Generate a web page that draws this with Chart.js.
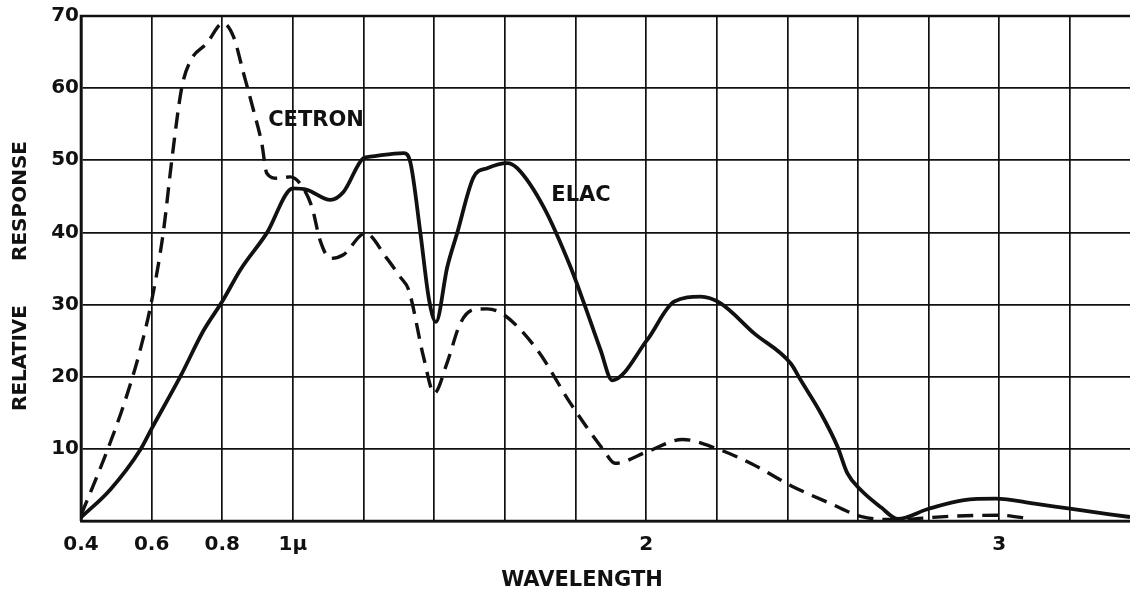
<!DOCTYPE html>
<html>
<head>
<meta charset="utf-8">
<script src="https://cdn.jsdelivr.net/npm/chart.js@4/dist/chart.umd.min.js"></script>
<style>
  html, body { margin: 0; padding: 0; background: #ffffff; }
  #wrap { width: 1130px; height: 595px; position: relative; }
</style>
</head>
<body>
<div id="wrap"><canvas id="c" width="1130" height="595"></canvas></div>
<script>
// ---- data ----
const cetronX = [0.40,0.473,0.525,0.567,0.600,0.633,0.657,0.685,0.709,0.756,0.802,0.832,0.860,0.888,0.912,0.926,0.955,0.992,1.020,1.054,1.077,1.106,1.143,1.205,1.266,1.304,1.328,1.370,1.400,1.437,1.474,1.512,1.550,1.597,1.692,1.786,1.880,1.912,2.003,2.103,2.202,2.300,2.410,2.523,2.610,2.700,2.860,3.000,3.090];
const cetronY = [0.8,9.6,16.7,23.6,30.5,40.0,50.0,60.0,63.7,66.2,69.0,67.1,62.1,57.0,52.3,48.2,47.5,47.7,46.8,43.5,38.9,36.4,36.9,39.9,36.4,33.8,32.0,22.7,17.7,22.0,27.4,29.3,29.4,28.6,23.7,16.3,9.8,8.0,9.6,11.3,10.0,7.9,4.9,2.4,0.6,0.2,0.65,0.8,0.3];

const elacX = [0.40,0.482,0.567,0.600,0.681,0.747,0.802,0.851,0.926,1.000,1.040,1.106,1.143,1.200,1.219,1.314,1.333,1.361,1.385,1.405,1.437,1.465,1.512,1.550,1.607,1.635,1.710,1.786,1.824,1.871,1.904,2.003,2.079,2.154,2.210,2.306,2.410,2.438,2.495,2.542,2.570,2.608,2.665,2.712,2.800,2.900,2.990,3.100,3.200,3.370];
const elacY = [0.5,4.3,9.8,12.8,20.0,26.4,30.6,34.8,39.9,46.1,45.9,44.5,45.6,50.3,50.5,51.0,49.6,39.9,30.8,27.6,35.2,39.9,47.7,48.9,49.6,48.9,43.5,35.2,30.2,23.7,19.5,25.1,30.4,31.1,30.2,26.0,21.8,19.5,14.9,10.3,6.6,4.3,1.9,0.3,1.7,2.9,3.1,2.4,1.7,0.55];

const xTickValues = [0.4,0.6,0.8,1.0,1.2,1.4,1.6,1.8,2.0,2.2,2.4,2.6,2.8,3.0,3.2];
const xTickLabels = ['0.4','0.6','0.8','1\u03bc','','','','','2','','','','','3',''];
const yTickValues = [0,10,20,30,40,50,60,70];
const yTickLabels = ['','10','20','30','40','50','60','70'];

const seriesNames = ['CETRON','ELAC'];
const xTitle = 'WAVELENGTH';
const yTitleWords = ['RELATIVE','RESPONSE'];

const xMin = 0.4, xMax = 3.37, yMin = 0, yMax = 70;

// ---- build ----
const toPts = (xs, ys) => xs.map((x, i) => ({ x: x, y: ys[i] }));
const INK = '#111111';
const tickFont = { family: 'DejaVu Sans', size: 20, weight: 'bold' };

const annotate = {
  id: 'annotate',
  afterDraw(chart) {
    const ctx = chart.ctx;
    const a = chart.chartArea;
    ctx.save();
    // frame
    ctx.strokeStyle = INK;
    ctx.lineWidth = 2.6;
    ctx.beginPath();
    ctx.moveTo(a.left, a.bottom);
    ctx.lineTo(a.left, a.top);
    ctx.lineTo(a.right + 2, a.top);
    ctx.moveTo(a.left, a.bottom);
    ctx.lineTo(a.right + 2, a.bottom);
    ctx.stroke();

    ctx.fillStyle = INK;
    ctx.font = 'bold 21px "DejaVu Sans"';
    ctx.textAlign = 'center';
    ctx.textBaseline = 'middle';
    // curve labels
    ctx.fillText(seriesNames[0], 316, 121);
    ctx.fillText(seriesNames[1], 581, 196);
    // x title
    ctx.fillText(xTitle, 582, 581);
    // y title
    ctx.translate(21, 280);
    ctx.rotate(-Math.PI / 2);
    ctx.font = 'bold 20px "DejaVu Sans"';
    ctx.fillText(yTitleWords[0], -78, 0);
    ctx.fillText(yTitleWords[1], 79, 0);
    ctx.restore();
  }
};

new Chart(document.getElementById('c'), {
  type: 'line',
  data: {
    datasets: [
      {
        label: seriesNames[0],
        data: toPts(cetronX, cetronY),
        borderColor: INK,
        borderWidth: 3.4,
        borderDash: [16, 9],
        pointRadius: 0,
        fill: false,
        cubicInterpolationMode: 'monotone'
      },
      {
        label: seriesNames[1],
        data: toPts(elacX, elacY),
        borderColor: INK,
        borderWidth: 3.8,
        pointRadius: 0,
        fill: false,
        cubicInterpolationMode: 'monotone'
      }
    ]
  },
  options: {
    responsive: false,
    animation: false,
    events: [],
    layout: { padding: { left: 0, top: 16, right: 0, bottom: 0 } },
    plugins: { legend: { display: false }, tooltip: { enabled: false }, title: { display: false } },
    scales: {
      x: {
        type: 'linear',
        min: xMin,
        max: xMax,
        afterBuildTicks: (s) => { s.ticks = xTickValues.map(v => ({ value: v })); },
        afterFit: (s) => { s.height = 74; },
        ticks: {
          autoSkip: false,
          maxRotation: 0,
          padding: 12,
          color: INK,
          font: tickFont,
          callback: (v, i) => xTickLabels[i]
        },
        grid: { color: INK, lineWidth: 1.7, drawTicks: false },
        border: { display: true, color: INK, width: 2.6 }
      },
      y: {
        type: 'linear',
        min: yMin,
        max: yMax,
        afterBuildTicks: (s) => { s.ticks = yTickValues.map(v => ({ value: v })); },
        afterFit: (s) => { s.width = 81; },
        ticks: {
          autoSkip: false,
          padding: 2,
          color: INK,
          font: tickFont,
          callback: (v, i) => yTickLabels[i]
        },
        grid: { color: INK, lineWidth: 1.7, drawTicks: false },
        border: { display: true, color: INK, width: 2.6 }
      }
    }
  },
  plugins: [annotate]
});
</script>
</body>
</html>
